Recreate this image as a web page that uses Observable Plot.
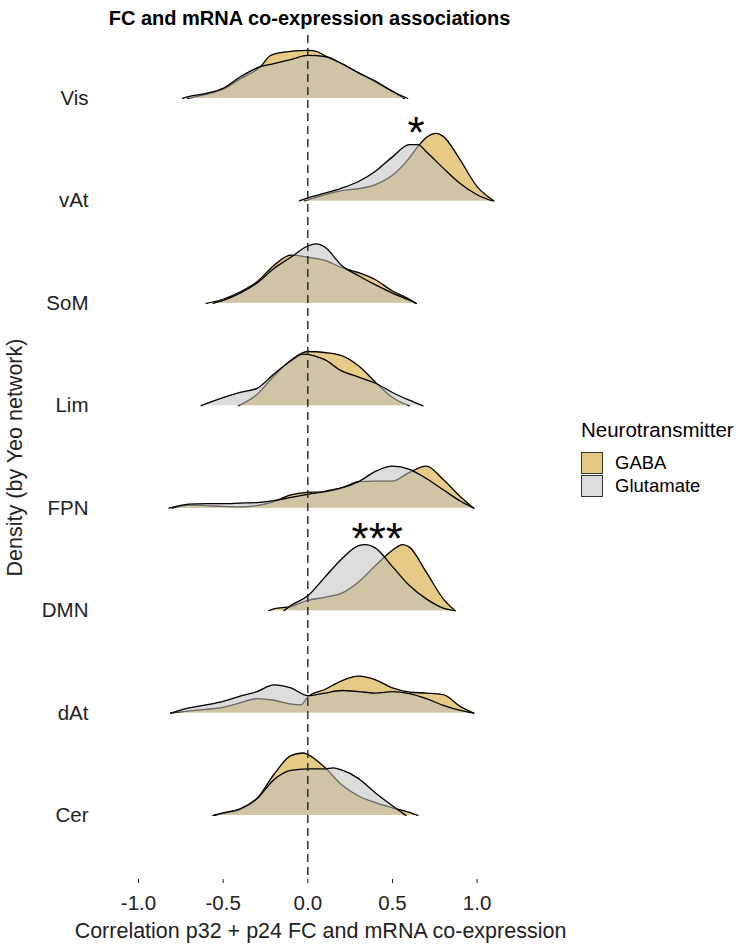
<!DOCTYPE html>
<html>
<head>
<meta charset="utf-8">
<script src="https://cdn.jsdelivr.net/npm/d3@7"></script>
<script src="https://cdn.jsdelivr.net/npm/@observablehq/plot@0.6"></script>
<style>
  body { margin: 0; background: #fff; font-family: "Liberation Sans", Arial, sans-serif; }
  #wrap { position: relative; width: 742px; height: 944px; overflow: hidden; }
  #chart { position: absolute; left: 0; top: 0; }
  #title { position: absolute; left: 0; width: 619px; top: 8px; text-align: center;
           font-weight: bold; font-size: 20px; line-height: 20px; color: #000; }
  #legend { position: absolute; left: 581px; top: 420px; color: #000; }
  #legend .lt { font-size: 20.5px; line-height: 20.5px; white-space: nowrap; }
  #legend .row { position: absolute; left: 0; display: flex; align-items: center; height: 23px; }
  #legend .sw { width: 22px; height: 22px; box-sizing: border-box; border: 1.4px solid #333; }
  #legend .lab { margin-left: 12px; font-size: 18.5px; white-space: nowrap; }
</style>
</head>
<body>
<div id="wrap">
  <div id="chart"></div>
  <div id="title"></div>
  <div id="legend"></div>
</div>
<script>
// ---------- data ----------
const titleText = "FC and mRNA co-expression associations";
const xLabel = "Correlation p32 + p24 FC and mRNA co-expression";
const yLabel = "Density (by Yeo network)";
const legendTitle = "Neurotransmitter";
const groups = ["GABA", "Glutamate"];
const groupColors = ["#D29E20", "#C0C0C0"];
const networks = ["Vis", "vAt", "SoM", "Lim", "FPN", "DMN", "dAt", "Cer"]; // top to bottom
const xTicks = [-1, -0.5, 0, 0.5, 1];

// density curves: [correlation, scaled density height (row units)]
const gabaVis = [[-0.71,0],[-0.6,0.04],[-0.5,0.09],[-0.4,0.19],[-0.28,0.31],[-0.22,0.42],[-0.15,0.45],[0,0.47],[0.05,0.46],[0.1,0.42],[0.2,0.34],[0.3,0.25],[0.4,0.16],[0.5,0.07],[0.57,0]];
const glutVis = [[-0.74,0],[-0.7,0.02],[-0.6,0.05],[-0.5,0.1],[-0.4,0.21],[-0.28,0.31],[-0.2,0.34],[-0.1,0.38],[0,0.42],[0.1,0.41],[0.2,0.34],[0.3,0.25],[0.4,0.17],[0.5,0.07],[0.59,0]];

const gabaVAt = [[-0.02,0],[0,0.01],[0.1,0.06],[0.2,0.1],[0.3,0.12],[0.4,0.16],[0.5,0.25],[0.6,0.42],[0.65,0.53],[0.7,0.62],[0.76,0.66],[0.8,0.63],[0.9,0.4],[1.0,0.14],[1.1,0]];
const glutVAt = [[-0.05,0],[0,0.03],[0.1,0.075],[0.2,0.125],[0.3,0.19],[0.4,0.29],[0.5,0.43],[0.6,0.55],[0.65,0.55],[0.7,0.48],[0.8,0.32],[0.9,0.17],[1.0,0.06],[1.09,0]];

const gabaSoM = [[-0.6,0],[-0.5,0.04],[-0.4,0.11],[-0.3,0.21],[-0.2,0.37],[-0.1,0.47],[0,0.45],[0.1,0.42],[0.2,0.35],[0.3,0.3],[0.4,0.23],[0.5,0.12],[0.6,0.04],[0.64,0]];
const glutSoM = [[-0.56,0],[-0.5,0.03],[-0.4,0.1],[-0.3,0.2],[-0.2,0.34],[-0.1,0.45],[0,0.56],[0.05,0.58],[0.1,0.55],[0.2,0.37],[0.3,0.27],[0.4,0.18],[0.5,0.1],[0.6,0.03],[0.64,0]];

const gabaLim = [[-0.41,0],[-0.3,0.11],[-0.2,0.29],[-0.1,0.445],[0,0.53],[0.1,0.52],[0.2,0.49],[0.3,0.39],[0.4,0.23],[0.5,0.08],[0.6,0]];
const glutLim = [[-0.63,0],[-0.6,0.02],[-0.5,0.08],[-0.4,0.13],[-0.3,0.17],[-0.2,0.31],[-0.1,0.44],[-0.03,0.505],[0.1,0.45],[0.2,0.34],[0.3,0.28],[0.4,0.22],[0.5,0.13],[0.6,0.055],[0.68,0]];

const gabaFPN = [[-0.8,0],[-0.7,0.03],[-0.6,0.026],[-0.5,0.017],[-0.4,0.013],[-0.3,0.026],[-0.2,0.065],[-0.1,0.13],[0,0.155],[0.1,0.16],[0.2,0.195],[0.3,0.26],[0.4,0.265],[0.5,0.265],[0.6,0.35],[0.7,0.41],[0.8,0.28],[0.9,0.115],[0.98,0]];
const glutFPN = [[-0.82,0],[-0.7,0.04],[-0.6,0.045],[-0.5,0.045],[-0.4,0.05],[-0.3,0.055],[-0.2,0.075],[-0.1,0.105],[0,0.135],[0.1,0.165],[0.2,0.2],[0.3,0.26],[0.4,0.36],[0.5,0.41],[0.6,0.38],[0.7,0.29],[0.8,0.18],[0.9,0.07],[0.98,0]];

const gabaDMN = [[-0.23,0],[-0.2,0.017],[-0.1,0.04],[0,0.1],[0.1,0.13],[0.2,0.17],[0.3,0.28],[0.4,0.44],[0.5,0.59],[0.56,0.645],[0.6,0.62],[0.7,0.375],[0.8,0.115],[0.87,0]];
const glutDMN = [[-0.14,0],[-0.1,0.05],[0,0.145],[0.1,0.325],[0.2,0.505],[0.3,0.635],[0.34,0.645],[0.4,0.61],[0.5,0.43],[0.6,0.245],[0.7,0.115],[0.8,0.025],[0.87,0]];

const gabaDAt = [[-0.81,0],[-0.7,0.022],[-0.6,0.036],[-0.5,0.056],[-0.4,0.1],[-0.3,0.14],[-0.2,0.125],[-0.1,0.088],[-0.04,0.08],[0,0.16],[0.1,0.23],[0.2,0.315],[0.3,0.36],[0.4,0.325],[0.5,0.245],[0.6,0.205],[0.7,0.195],[0.8,0.18],[0.9,0.065],[0.98,0]];
const glutDAt = [[-0.81,0],[-0.7,0.05],[-0.6,0.08],[-0.5,0.115],[-0.4,0.165],[-0.3,0.21],[-0.2,0.275],[-0.1,0.245],[0,0.17],[0.1,0.195],[0.2,0.22],[0.3,0.21],[0.4,0.195],[0.5,0.21],[0.6,0.19],[0.7,0.14],[0.8,0.075],[0.9,0.026],[0.98,0]];

const gabaCer = [[-0.55,0],[-0.5,0.022],[-0.4,0.06],[-0.3,0.165],[-0.2,0.4],[-0.1,0.585],[-0.03,0.61],[0,0.595],[0.1,0.47],[0.2,0.3],[0.3,0.19],[0.4,0.125],[0.5,0.075],[0.6,0.03],[0.65,0]];
const glutCer = [[-0.56,0],[-0.5,0.026],[-0.4,0.065],[-0.3,0.165],[-0.2,0.35],[-0.1,0.44],[0,0.455],[0.1,0.455],[0.15,0.465],[0.2,0.445],[0.3,0.36],[0.4,0.22],[0.5,0.095],[0.58,0]];

const gabaCurves = [gabaVis, gabaVAt, gabaSoM, gabaLim, gabaFPN, gabaDMN, gabaDAt, gabaCer];
const glutCurves = [glutVis, glutVAt, glutSoM, glutLim, glutFPN, glutDMN, glutDAt, glutCer];

// significance annotations
const sigNetworks = ["vAt", "DMN"];
const sigLabels = ["*", "***"];
const sigX = [0.64, 0.41];
const sigHeight = [0.76, 0.8];

// ---------- build table ----------
const nRows = networks.length;
const rowIndex = name => nRows - 1 - networks.indexOf(name);
function toRows(curves, group) {
  const out = [];
  curves.forEach((pts, i) => {
    const base = nRows - 1 - i;
    pts.forEach(([x, h]) => out.push({network: networks[i], group, x, h, base, top: base + h}));
  });
  return out;
}
const gabaData = toRows(gabaCurves, groups[0]);
const glutData = toRows(glutCurves, groups[1]);
const sigData = sigNetworks.map((n, i) => ({network: n, label: sigLabels[i], x: sigX[i], y: rowIndex(n) + sigHeight[i]}));

const curve = "monotone-x";
const fillOpacity = 0.55;
const lineStyle = {stroke: "#000", strokeWidth: 1.3, curve, z: "network"};

const chart = Plot.plot({
  width: 742,
  height: 944,
  marginLeft: 138,
  marginRight: 240,
  marginTop: 35,
  marginBottom: 65,
  x: {domain: [-1, 1.15]},
  y: {domain: [-0.625, 7.615]},
  style: {fontFamily: "'Liberation Sans', Arial, sans-serif", fontSize: "20.5px", color: "#000", background: "#fff"},
  marks: [
    Plot.areaY(gabaData, {x: "x", y1: "base", y2: "top", z: "network", fill: groupColors[0], fillOpacity, curve}),
    Plot.lineY(gabaData, {x: "x", y: "top", ...lineStyle}),
    Plot.areaY(glutData, {x: "x", y1: "base", y2: "top", z: "network", fill: groupColors[1], fillOpacity, curve}),
    Plot.lineY(glutData, {x: "x", y: "top", ...lineStyle}),
    Plot.ruleX([0], {stroke: "#222", strokeWidth: 1.4, strokeDasharray: "8,5"}),
    Plot.text(sigData, {x: "x", y: "y", text: "label", fontSize: 44, fill: "#000", lineAnchor: "middle", dy: 11}),
    Plot.axisX({
      ticks: xTicks, tickFormat: d => d.toFixed(1), tickSize: 4, tickPadding: 12,
      color: "#222", fontSize: 20.5, label: null
    }),
    Plot.axisX({
      ticks: [], tickSize: 0, color: "#222", fontSize: 21.5,
      label: xLabel, labelAnchor: "center", labelArrow: "none", labelOffset: 58
    }),
    Plot.axisY({
      ticks: d3.range(nRows), tickFormat: i => networks[nRows - 1 - i], tickSize: 0, tickPadding: 50,
      color: "#222", fontSize: 20.5, label: null
    }),
    Plot.axisY({
      ticks: [], tickSize: 0, color: "#222", fontSize: 21.5,
      label: yLabel, labelAnchor: "center", labelArrow: "none", labelOffset: 132
    })
  ]
});
document.getElementById("chart").appendChild(chart);
document.getElementById("title").textContent = titleText;

// legend
const legend = document.getElementById("legend");
const lt = document.createElement("div");
lt.className = "lt";
lt.textContent = legendTitle;
legend.appendChild(lt);
const swatchFill = groupColors.map(c => {
  const k = d3.color(c);
  const mix = v => Math.round(fillOpacity * v + (1 - fillOpacity) * 255);
  return d3.rgb(mix(k.r), mix(k.g), mix(k.b)).formatHex();
});
groups.forEach((g, i) => {
  const row = document.createElement("div");
  row.className = "row";
  row.style.top = (31 + i * 23) + "px";
  const sw = document.createElement("div");
  sw.className = "sw";
  sw.style.background = swatchFill[i];
  const lab = document.createElement("span");
  lab.className = "lab";
  lab.textContent = g;
  row.appendChild(sw);
  row.appendChild(lab);
  legend.appendChild(row);
});
</script>
</body>
</html>
